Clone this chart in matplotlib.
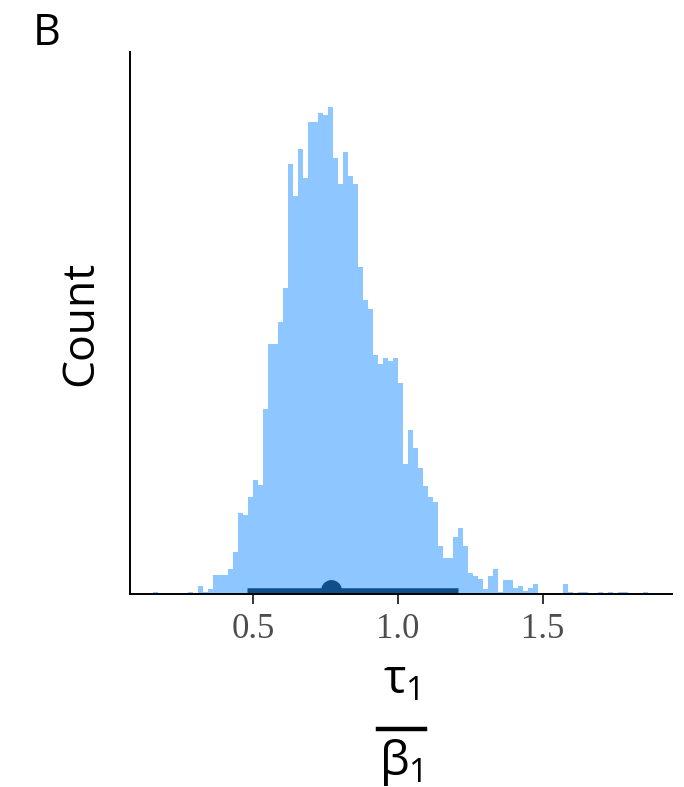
import numpy as np
import matplotlib
matplotlib.use("Agg")
import matplotlib.pyplot as plt
from matplotlib.lines import Line2D

# posterior draws of tau_1 / beta_1, binned (bin counts, left edge, width)
BIN_LEFT = 0.1543
BIN_WIDTH = 0.01728
COUNTS = [
    2, 0, 0, 0, 0, 0, 0, 2, 0, 8, 2, 5, 19, 19, 19, 25, 42, 81, 79, 97,
    114, 109, 185, 250, 250, 272, 306, 430, 398, 445, 416, 472, 472, 481, 479, 487,
    436, 410, 442, 418, 410, 327, 294, 285, 239, 230, 236, 233, 236, 211,
    130, 164, 146, 126, 108, 97, 92, 48, 36, 36, 57, 66, 48, 21, 18, 15,
    5, 18, 25, 2, 14, 14, 6, 8, 3, 6, 10, 1, 0, 0, 0, 0, 10, 2, 0, 2,
    2, 0, 0, 2, 0, 2, 0, 2, 2, 0, 0, 0, 2,
]

# posterior median and interval
MEDIAN = 0.769
INTERVAL_LO = 0.477
INTERVAL_HI = 1.206

XTICKS = [0.5, 1.0, 1.5]
XTICKLABELS = ["0.5", "1.0", "1.5"]

FILL = "#1E90FF"
DARK = "#104E8B"

plt.rcParams.update({
    "font.family": ["Open Sans", "DejaVu Sans"],
    "mathtext.fontset": "custom",
    "mathtext.rm": "Open Sans",
    "mathtext.it": "Open Sans",
    "mathtext.bf": "Open Sans:bold",
})

W, H = 684, 787
fig = plt.figure(figsize=(W / 100, H / 100), dpi=100)
ax = fig.add_axes([130 / W, (H - 594) / H, (672 - 130) / W, (594 - 52) / H])

counts = np.asarray(COUNTS, dtype=float)
edges = BIN_LEFT + BIN_WIDTH * np.arange(len(counts) + 1)
ax.stairs(counts, edges, fill=True, color=FILL, alpha=0.5, linewidth=0)

# point + interval along the baseline
ax.plot([INTERVAL_LO, INTERVAL_HI], [3.5, 3.5], color=DARK, lw=4.7,
        solid_capstyle="butt", zorder=3)
ax.plot([MEDIAN], [4.5], "o", color=DARK, ms=15, mew=0, zorder=4)

ax.set_xlim(0.0738, 1.947)
ax.set_ylim(0, counts.max() * 542 / 487)

for side in ("top", "right"):
    ax.spines[side].set_visible(False)
for side in ("left", "bottom"):
    ax.spines[side].set_linewidth(1.4)
    ax.spines[side].set_color("black")
    ax.spines[side].set_zorder(5)

ax.set_yticks([])
ax.set_xticks(XTICKS)
ax.set_xticklabels(XTICKLABELS, family="Liberation Serif", fontsize=25,
                   color="#4D4D4D")
ax.tick_params(axis="x", length=7, width=1.4, color="#333333", pad=7)

# y title and panel tag
fig.text(92 / W, 1 - 323 / H, "Count", rotation=90, rotation_mode="anchor",
         ha="center", va="baseline", fontsize=32)
fig.text(33 / W, 1 - 45 / H, "B", ha="left", va="baseline", fontsize=31)

# x title as a stacked fraction
fig.text(401 / W, 1 - 693 / H, r"$\tau_1$", ha="center", va="baseline",
         fontsize=34)
fig.add_artist(Line2D([378 / W, 425 / W], [1 - 728.5 / H, 1 - 728.5 / H],
                      color="black", lw=3.2, transform=fig.transFigure))
fig.text(401 / W, 1 - 775 / H, r"$\beta_1$", ha="center", va="baseline",
         fontsize=34)

fig.savefig("out.png", dpi=100)
